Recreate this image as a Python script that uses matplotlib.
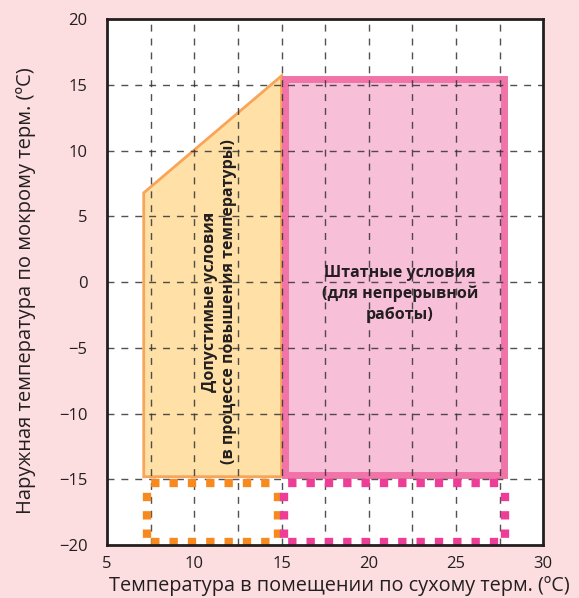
import matplotlib.pyplot as plt

plt.rcParams['font.family'] = ['Open Sans', 'DejaVu Sans']

# allowable (warm-up) zone polygon
warm_x = [7.1, 7.1, 15.0, 15.0]
warm_y = [-14.8, 6.8, 15.7, -14.8]

# normal operation zone rectangle
norm_x = [15.2, 27.75]
norm_y = [-14.7, 15.5]

# dotted boxes below -15
warm_box_x = [7.3, 14.8]
norm_box_x = [15.15, 27.8]
box_y = [-19.8, -15.3]

xticks = [5, 10, 15, 20, 25, 30]
yticks = [-20, -15, -10, -5, 0, 5, 10, 15, 20]

bg = '#fcdde0'
fig = plt.figure(figsize=(5.79, 5.98), dpi=100, facecolor=bg)
ax = fig.add_axes([0.185, 0.0886, 0.753, 0.879])
ax.set_facecolor('white')
ax.set_xlim(5, 30)
ax.set_ylim(-20, 20)

# grid
for gx in [7.5, 10, 12.5, 15, 17.5, 20, 22.5, 25, 27.5]:
    ax.axvline(gx, color='#333333', lw=1, ls=(0, (5, 5)), zorder=3, alpha=0.85)
for gy in [-15, -10, -5, 0, 5, 10, 15]:
    ax.axhline(gy, color='#333333', lw=1, ls=(0, (5, 5)), zorder=3, alpha=0.85)

ax.fill(warm_x, warm_y, facecolor='#ffe0a6', edgecolor='#f8a55a', lw=2, zorder=1)

rx = [norm_x[0], norm_x[1], norm_x[1], norm_x[0], norm_x[0]]
ry = [norm_y[0], norm_y[0], norm_y[1], norm_y[1], norm_y[0]]
ax.fill(rx, ry, facecolor='#f8bfd8', edgecolor='none', zorder=2)
ax.plot(rx, ry, color='#f074a8', lw=5, zorder=2, solid_joinstyle='miter')

def dotted_box(xs, ys, color):
    sides = [([xs[0], xs[1]], [ys[0], ys[0]]),
             ([xs[0], xs[1]], [ys[1], ys[1]]),
             ([xs[0], xs[0]], [ys[0], ys[1]]),
             ([xs[1], xs[1]], [ys[0], ys[1]])]
    for sx, sy in sides:
        ax.plot(sx, sy, color=color, lw=6, ls=(-0.5, (1, 1.2)), dash_capstyle='butt',
                zorder=4, clip_on=False)

dotted_box(warm_box_x, box_y, '#f7891f')
dotted_box(norm_box_x, box_y, '#ee3d96')

ax.text(11.45, -1.5, 'Допустимые условия\n(в процессе повышения температуры)',
        rotation=90, ha='center', va='center', fontsize=11.5, fontweight='bold',
        color='#231f20', linespacing=1.25, zorder=5)
ax.text(21.8, -0.9, 'Штатные условия\n(для непрерывной\nработы)',
        ha='center', va='center', fontsize=11.5, fontweight='bold',
        color='#231f20', linespacing=1.35, zorder=5)

ax.set_xticks(xticks)
ax.set_yticks(yticks)
ax.set_yticklabels([str(v).replace('-', '\u2212') for v in yticks])
ax.tick_params(length=0, labelsize=12, colors='#231f20')
ax.tick_params(axis='y', pad=14)
ax.tick_params(axis='x', pad=8)
for s in ax.spines.values():
    s.set_linewidth(2)
    s.set_color('#231f20')
    s.set_zorder(6)

ax.set_xlabel('Температура в помещении по сухому терм. (ºC)', fontsize=14.3, color='#231f20')
ax.set_ylabel('Наружная температура по мокрому терм. (ºC)', fontsize=14.5, color='#231f20')
ax.xaxis.set_label_coords(0.532, -0.058)
ax.yaxis.set_label_coords(-0.163, 0.484)

fig.savefig('out.png', facecolor=bg)
